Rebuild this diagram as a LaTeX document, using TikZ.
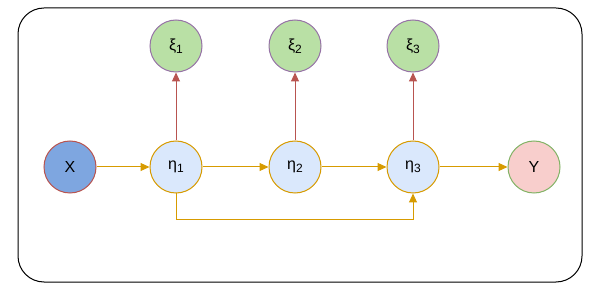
\documentclass[tikz,border=0pt]{standalone}
\usepackage{fontspec}
\setmainfont{Liberation Sans}
\usepackage{xcolor}
\usetikzlibrary{arrows.meta}
\definecolor{blueFill}{HTML}{7EA6E0}
\definecolor{etaFill}{HTML}{DAE8FC}
\definecolor{xiFill}{HTML}{B9E0A5}
\definecolor{yFill}{HTML}{F8CECC}
\definecolor{redLine}{HTML}{B85450}
\definecolor{goldLine}{HTML}{D79B00}
\definecolor{purpleLine}{HTML}{9673A6}
\definecolor{greenLine}{HTML}{82B366}
\newcommand{\sub}[1]{\raisebox{-0.4ex}{\fontsize{12}{12}\selectfont #1}}

\begin{document}
\begin{tikzpicture}[x=1pt, y=-1pt, line width=1pt,
    var/.style={circle, minimum size=52pt, inner sep=0pt, font=\fontsize{16}{18}\selectfont},
    gold/.style={goldLine, -{Triangle[length=9pt, width=8pt]}},
    red/.style={redLine, -{Triangle[length=9pt, width=8pt]}}]
            \useasboundingbox (0,0) rectangle (597,291);
            % frame
            \draw[black, line width=1pt, rounded corners=26pt] (18,8) rectangle (582,282);

            % observed and latent variables
            \node[var, draw=redLine, fill=blueFill] (X) at (70,167) {X};
            \node[var, draw=goldLine, fill=etaFill] (eta1) at (176,167) {η\sub{1}};
            \node[var, draw=goldLine, fill=etaFill] (eta2) at (295,167) {η\sub{2}};
            \node[var, draw=goldLine, fill=etaFill] (eta3) at (413,167) {η\sub{3}};
            \node[var, draw=greenLine, fill=yFill] (Y) at (534,167) {Y};
            \node[var, draw=purpleLine, fill=xiFill] (xi1) at (176,46) {ξ\sub{1}};
            \node[var, draw=purpleLine, fill=xiFill] (xi2) at (295,46) {ξ\sub{2}};
            \node[var, draw=purpleLine, fill=xiFill] (xi3) at (413,46) {ξ\sub{3}};

            % chain
            \draw[gold] (X) -- (eta1);
            \draw[gold] (eta1) -- (eta2);
            \draw[gold] (eta2) -- (eta3);
            \draw[gold] (eta3) -- (Y);
            \draw[gold] (eta1.south) -- ++(0,26) -| (eta3.south);

            % indicators
            \draw[red] (eta1) -- (xi1);
            \draw[red] (eta2) -- (xi2);
            \draw[red] (eta3) -- (xi3);
        \end{tikzpicture}
\end{document}
